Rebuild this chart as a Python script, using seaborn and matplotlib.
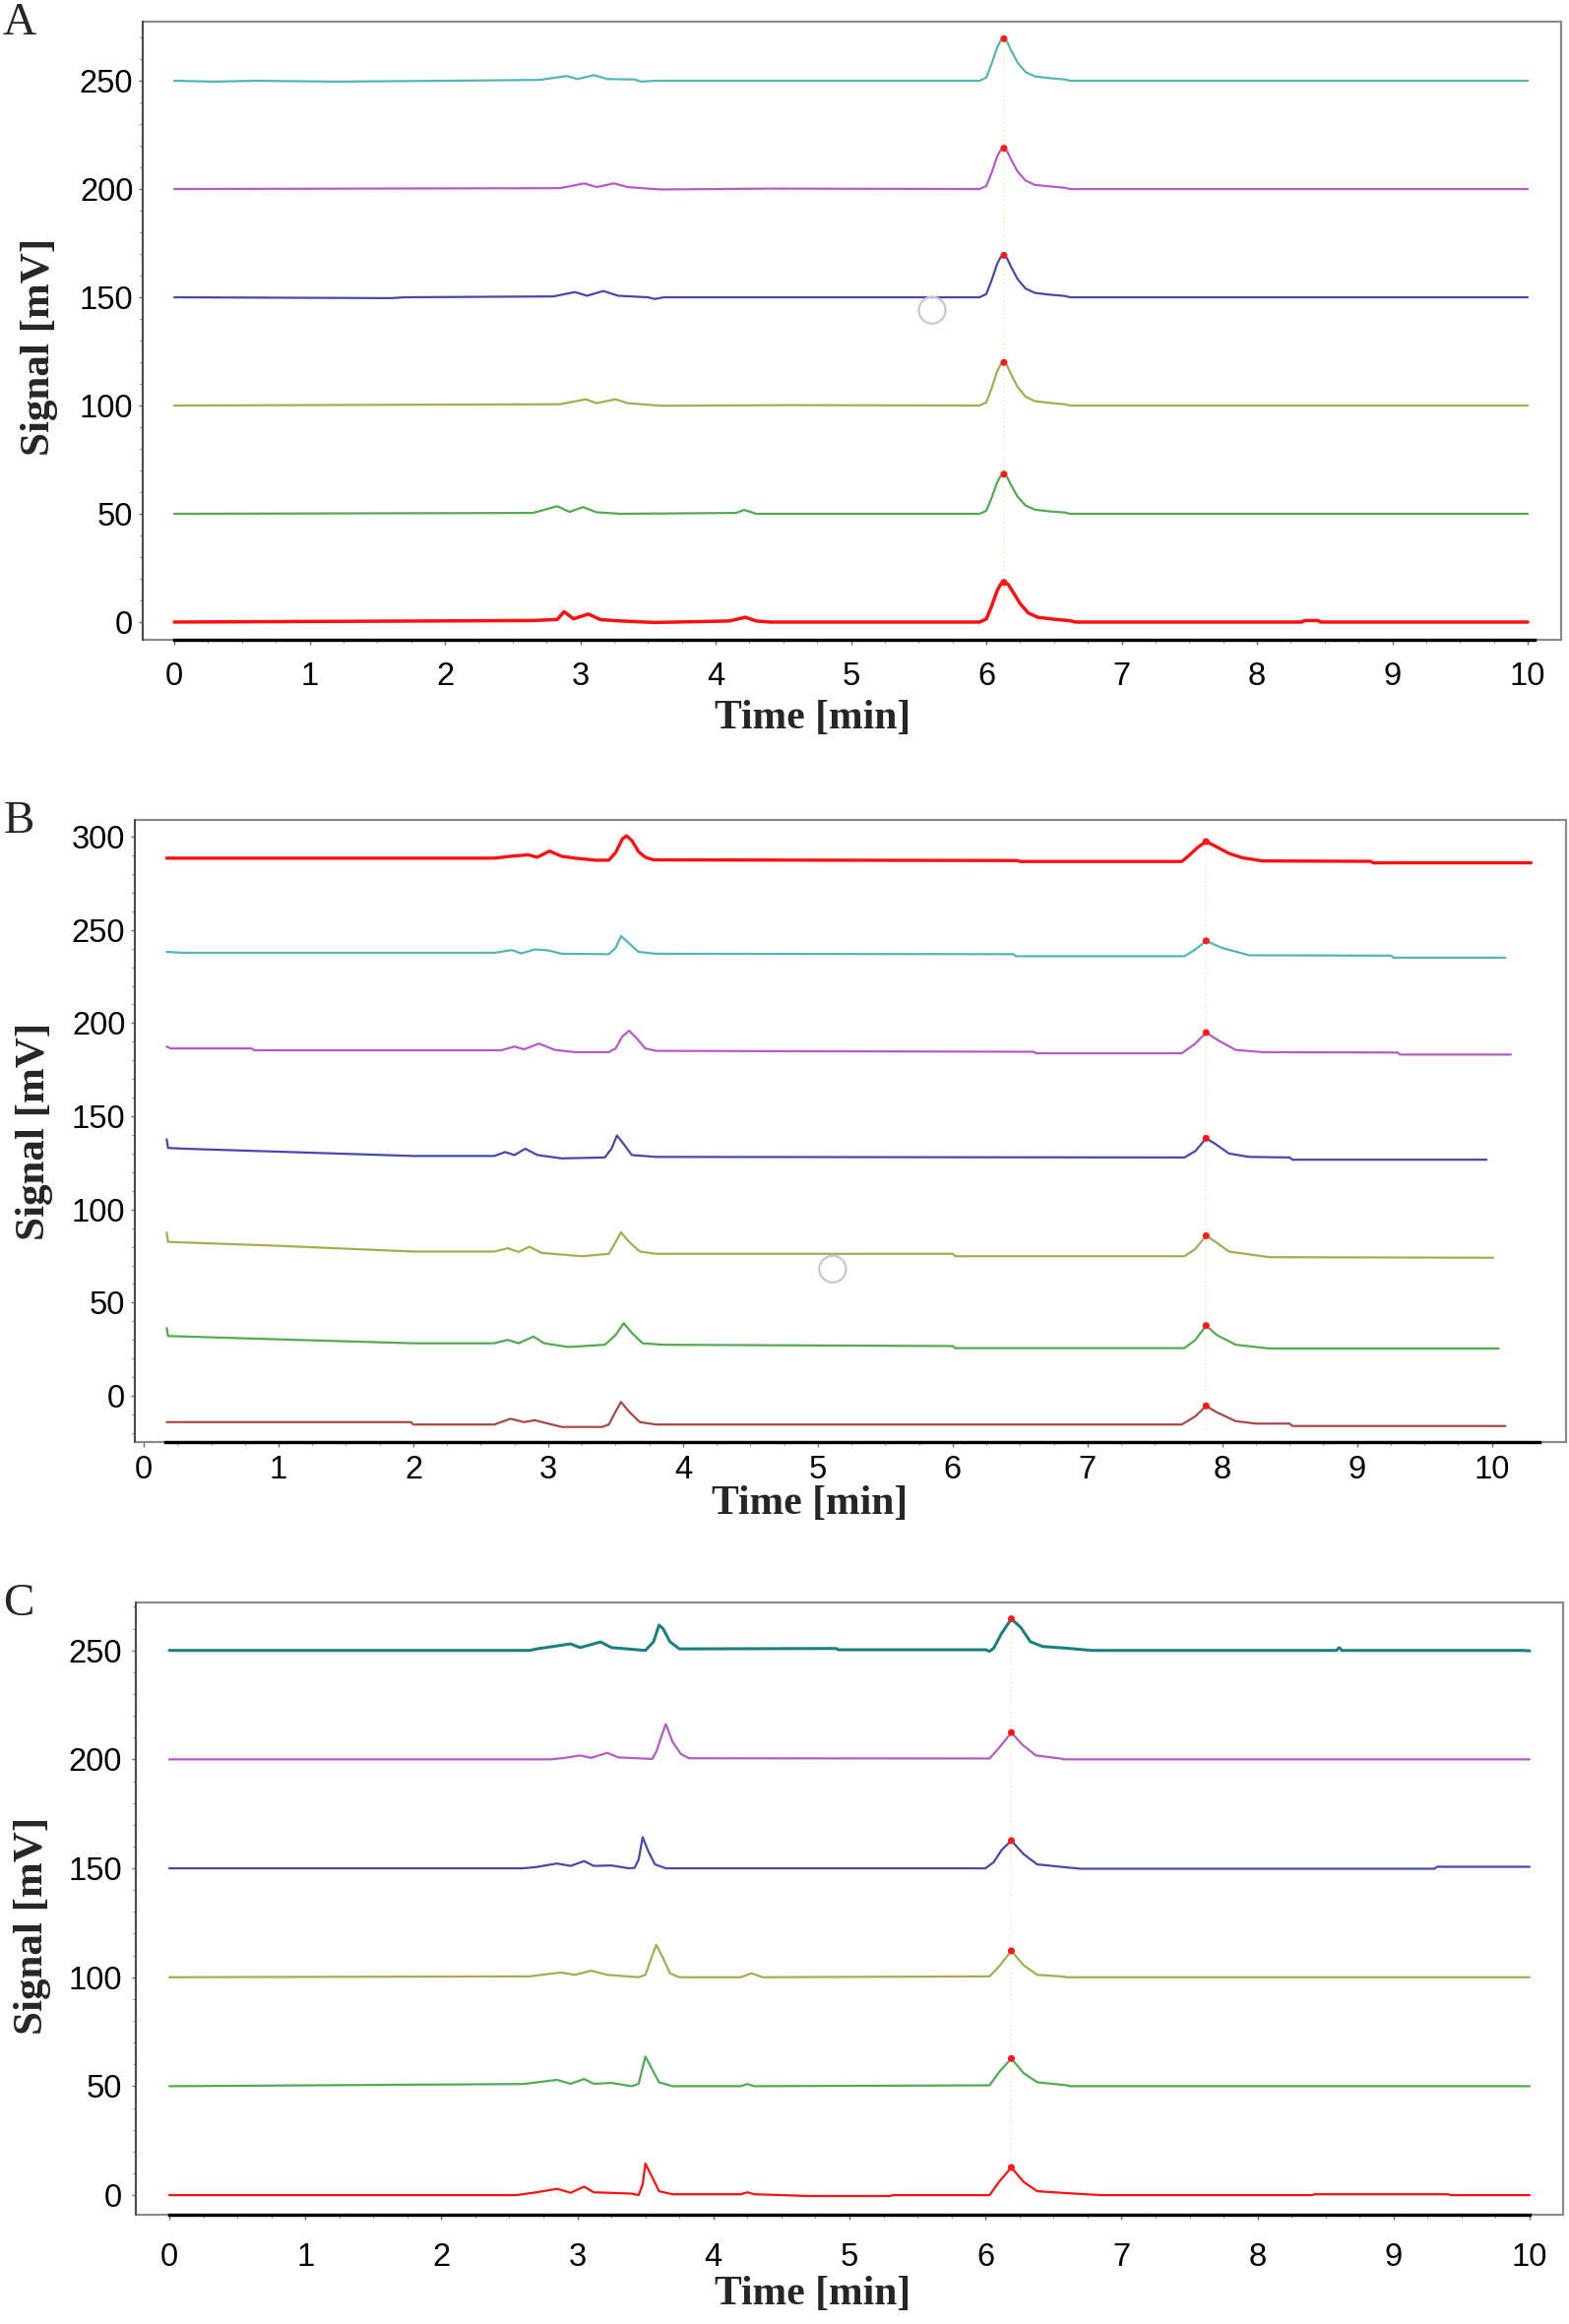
import numpy as np
import pandas as pd
import matplotlib.pyplot as plt
import seaborn as sns
from matplotlib.patches import Rectangle

sns.set_theme(style="ticks")
plt.rcParams['font.family'] = ['Liberation Sans', 'DejaVu Sans']

# ---------------------------------------------------------------
# Panel A  (time [min], signal [mV])
# ---------------------------------------------------------------
A_TEAL = [(0.0, 250), (0.3, 249.6), (0.6, 250), (1.2, 249.6), (2.0, 250), (2.7, 250.4),
          (2.9, 252.2), (2.98, 250.8), (3.1, 252.6), (3.2, 250.8), (3.4, 250.6), (3.45, 249.6),
          (3.55, 250), (5.95, 250), (6.0, 251.5), (6.04, 258), (6.08, 265.4), (6.105, 268.4),
          (6.13, 269.4), (6.155, 267.8), (6.18, 264.4), (6.23, 258.5), (6.29, 254), (6.36, 252),
          (6.47, 251.2), (6.58, 250.6), (6.62, 250), (10.0, 250)]
A_PURPLE = [(0.0, 200), (2.85, 200.4), (3.03, 202.6), (3.12, 200.9), (3.25, 202.6), (3.35, 200.9),
            (3.5, 200.2), (3.6, 199.8), (4.4, 200.2), (5.95, 200), (6.0, 201.4), (6.04, 207.7),
            (6.08, 215), (6.105, 217.9), (6.13, 218.8), (6.155, 217.3), (6.18, 214), (6.23, 208.2),
            (6.29, 203.9), (6.36, 201.9), (6.47, 201.2), (6.58, 200.6), (6.62, 200), (10.0, 200)]
A_BLUE = [(0.0, 150), (1.6, 149.6), (1.7, 150), (2.8, 150.4), (2.96, 152.4), (3.05, 150.7),
          (3.17, 152.9), (3.28, 150.7), (3.5, 150), (3.55, 149.2), (3.62, 150), (5.95, 150),
          (6.0, 151.5), (6.04, 158), (6.08, 165.4), (6.105, 168.4), (6.13, 169.4), (6.155, 167.8),
          (6.18, 164.4), (6.23, 158.5), (6.29, 154), (6.36, 152), (6.47, 151.2), (6.58, 150.6),
          (6.62, 150), (10.0, 150)]
A_OLIVE = [(0.0, 100), (2.85, 100.6), (3.04, 102.9), (3.12, 101.1), (3.26, 102.9), (3.35, 101.1),
           (3.6, 99.9), (4.55, 100.2), (5.95, 100), (6.0, 101.5), (6.04, 108.2), (6.08, 115.8),
           (6.105, 118.9), (6.13, 119.9), (6.155, 118.3), (6.18, 114.8), (6.23, 108.7),
           (6.29, 104.1), (6.36, 102), (6.47, 101.2), (6.58, 100.6), (6.62, 100), (10.0, 100)]
A_GREEN = [(0.0, 50), (2.65, 50.4), (2.83, 53.5), (2.92, 50.9), (3.02, 53.1), (3.12, 50.7),
           (3.3, 50), (4.15, 50.4), (4.21, 51.8), (4.3, 50), (5.95, 50), (6.0, 51.4), (6.04, 57.5),
           (6.08, 64.5), (6.105, 67.4), (6.13, 68.3), (6.155, 66.8), (6.18, 63.6), (6.23, 58),
           (6.29, 53.8), (6.36, 51.9), (6.47, 51.1), (6.58, 50.6), (6.62, 50), (10.0, 50)]
A_RED = [(0.0, 0), (2.65, 0.7), (2.83, 1.2), (2.88, 4.8), (2.95, 1.5), (3.06, 3.7), (3.15, 1.1),
         (3.3, 0.5), (3.55, -0.2), (4.1, 0.5), (4.22, 2.2), (4.3, 0.5), (4.4, 0), (5.95, 0),
         (6.0, 1.4), (6.04, 7.5), (6.08, 14.5), (6.105, 17.4), (6.13, 18.3), (6.16, 17.5),
         (6.2, 13.6), (6.25, 8.5), (6.31, 4.2), (6.38, 2.2), (6.5, 1.3), (6.62, 0.6), (6.66, 0),
         (8.33, 0), (8.35, 0.7), (8.45, 0.7), (8.47, 0), (10.0, 0)]
A_APEX_T = [6.13, 6.13, 6.13, 6.13, 6.13, 6.13]
A_APEX_Y = [18.3, 68.3, 119.9, 169.4, 218.8, 269.4]
A_CURSOR = [(5.6, 144)]

# ---------------------------------------------------------------
# Panel B
# ---------------------------------------------------------------
B_RED = [(0.17, 288.5), (2.6, 288.5), (2.72, 289.5), (2.85, 290.3), (2.92, 289), (3.01, 292.3),
         (3.1, 289.5), (3.2, 288.5), (3.35, 287.4), (3.45, 287.4), (3.5, 291.5), (3.55, 298.7),
         (3.58, 300.5), (3.62, 298), (3.67, 292), (3.72, 289), (3.78, 287.6), (6.48, 287.2),
         (6.5, 286.7), (7.7, 286.7), (7.75, 289.7), (7.82, 294.4), (7.88, 297.4), (7.95, 294.9),
         (8.05, 291), (8.15, 288.7), (8.3, 287), (9.1, 286.8), (9.12, 286.0), (10.29, 286.0)]
B_TEAL = [(0.17, 238.2), (0.3, 237.7), (2.6, 237.7), (2.73, 239.2), (2.8, 237.4), (2.9, 239.5),
          (3.0, 239), (3.1, 237.2), (3.45, 237), (3.5, 240.3), (3.54, 246.7), (3.6, 242.8),
          (3.67, 238.2), (3.8, 237.2), (6.45, 237), (6.47, 235.9), (7.72, 235.9), (7.8, 239.5),
          (7.88, 244.1), (8.0, 240.3), (8.2, 236.4), (9.25, 236.2), (9.27, 235.1), (10.1, 235.1)]
B_PURPLE = [(0.17, 187.4), (0.2, 186.4), (0.8, 186.4), (0.82, 185.4), (2.65, 185.4), (2.75, 187.4),
            (2.82, 185.9), (2.93, 189), (3.05, 185.6), (3.2, 184.4), (3.45, 184.4), (3.5, 186.4),
            (3.55, 192.8), (3.6, 195.9), (3.66, 191.5), (3.72, 186.4), (3.8, 185.1), (6.6, 184.6),
            (6.62, 183.8), (7.7, 183.8), (7.8, 189), (7.88, 194.9), (7.98, 190.3), (8.1, 185.6),
            (8.3, 184.4), (9.3, 184.2), (9.32, 183.1), (10.14, 183.1)]
B_BLUE = [(0.17, 137.7), (0.18, 133), (0.3, 132.6), (1.0, 131), (2.0, 128.7), (2.6, 128.7),
          (2.68, 130.8), (2.75, 129.2), (2.83, 132.6), (2.92, 129.2), (3.1, 127.4), (3.42, 127.9),
          (3.47, 132.6), (3.51, 139.7), (3.56, 135.1), (3.62, 129.2), (3.8, 128.2), (7.72, 127.9),
          (7.8, 131.3), (7.88, 138.2), (7.95, 135.1), (8.05, 130), (8.2, 128.2), (8.5, 127.9),
          (8.52, 126.7), (9.96, 126.7)]
B_OLIVE = [(0.17, 87.7), (0.18, 82.6), (1.0, 80.5), (2.0, 77.4), (2.6, 77.4), (2.7, 79.2),
           (2.78, 77.2), (2.86, 80), (2.95, 76.7), (3.25, 74.9), (3.45, 76.2), (3.49, 81.3),
           (3.54, 87.7), (3.6, 82.6), (3.68, 77.4), (3.8, 76.2), (6.0, 76.2), (6.02, 74.9),
           (7.72, 74.9), (7.8, 78.8), (7.88, 85.9), (7.95, 82.6), (8.05, 77.4), (8.35, 74.4),
           (10.01, 74.1)]
B_GREEN = [(0.17, 36.4), (0.18, 32.1), (1.0, 30.3), (2.0, 28.2), (2.6, 28.2), (2.7, 30),
           (2.78, 28.2), (2.89, 31.8), (2.97, 28.2), (3.15, 26.2), (3.42, 27.4), (3.5, 32.6),
           (3.56, 39), (3.62, 33.8), (3.7, 28.2), (3.85, 27.4), (6.0, 26.7), (6.02, 25.6),
           (7.72, 25.6), (7.8, 30), (7.88, 37.7), (7.96, 32.6), (8.1, 27.4), (8.35, 25.4),
           (10.05, 25.4)]
B_BROWN = [(0.17, -14.1), (1.98, -14.1), (2.0, -15.4), (2.6, -15.4), (2.72, -12.3), (2.82, -14.1),
           (2.9, -13.1), (3.0, -14.9), (3.1, -16.7), (3.4, -16.7), (3.45, -15.4), (3.5, -8.5),
           (3.54, -3.3), (3.6, -8.5), (3.68, -14.1), (3.8, -15.4), (7.7, -15.4), (7.8, -11),
           (7.88, -5.4), (7.95, -8.5), (8.1, -13.6), (8.25, -14.9), (8.5, -14.9), (8.52, -16.2),
           (10.1, -16.2)]
B_APEX_T = [7.88, 7.88, 7.88, 7.88, 7.88, 7.88, 7.88]
B_APEX_Y = [-5.4, 37.7, 85.9, 138.2, 194.9, 244.1, 297.4]
B_CURSOR = [(5.11, 68)]

# ---------------------------------------------------------------
# Panel C
# ---------------------------------------------------------------
C_TEAL = [(0.0, 250), (2.65, 250), (2.7, 250.7), (2.95, 253), (3.02, 251.3), (3.17, 253.9),
          (3.25, 251.3), (3.5, 250), (3.56, 254), (3.6, 261.6), (3.63, 260), (3.68, 254),
          (3.75, 250.7), (4.9, 250.9), (4.92, 250.3), (6.0, 250.3), (6.03, 249.6), (6.06, 251),
          (6.12, 258), (6.19, 264.5), (6.26, 260.5), (6.33, 254), (6.42, 251.8), (6.6, 251),
          (6.78, 250), (8.58, 250), (8.6, 251.3), (8.62, 250), (9.95, 250), (10.0, 249.8)]
C_PURPLE = [(0.0, 200), (2.8, 200), (2.9, 200.6), (3.02, 201.8), (3.1, 200.7), (3.22, 203),
            (3.3, 200.9), (3.55, 200.2), (3.58, 203.5), (3.62, 211), (3.65, 216.2), (3.7, 208),
            (3.76, 202.5), (3.82, 200.5), (6.03, 200.4), (6.1, 205.3), (6.19, 212.3), (6.27, 206.8),
            (6.37, 201.8), (6.55, 200.4), (6.58, 200), (10.0, 200)]
C_BLUE = [(0.0, 150), (2.6, 150), (2.7, 150.6), (2.85, 152.2), (2.95, 151.1), (3.05, 153.3),
          (3.12, 151.1), (3.25, 151.3), (3.38, 150), (3.42, 150.2), (3.45, 154), (3.48, 164.3),
          (3.52, 158), (3.57, 151.8), (3.65, 150), (6.0, 150), (6.06, 152.8), (6.12, 158.5),
          (6.19, 162.7), (6.28, 156.5), (6.38, 151.8), (6.55, 150.7), (6.7, 149.8), (9.3, 149.8),
          (9.32, 150.7), (10.0, 150.7)]
C_OLIVE = [(0.0, 100), (2.65, 100.4), (2.88, 102.2), (2.98, 101.1), (3.1, 103), (3.22, 101.1),
           (3.45, 100), (3.5, 101.1), (3.55, 109.9), (3.58, 114.9), (3.63, 108.8), (3.68, 101.8),
           (3.75, 100), (4.2, 100), (4.28, 101.8), (4.36, 100), (6.03, 100.4), (6.1, 105),
           (6.19, 112.1), (6.28, 105.5), (6.38, 101.1), (6.55, 100.4), (6.6, 100), (10.0, 100)]
C_GREEN = [(0.0, 50), (2.6, 51), (2.85, 52.9), (2.95, 51.1), (3.05, 53.3), (3.12, 51.1),
           (3.25, 51.5), (3.4, 50), (3.45, 51.1), (3.5, 63.6), (3.55, 57.7), (3.6, 51.8),
           (3.7, 50), (4.2, 50), (4.25, 51), (4.3, 50), (6.03, 50.4), (6.1, 56.5), (6.19, 62.7),
           (6.28, 56), (6.38, 51.8), (6.6, 50.4), (6.62, 50), (10.0, 50)]
C_RED = [(0.0, 0), (2.55, 0), (2.7, 1.3), (2.85, 2.9), (2.95, 1.1), (3.05, 3.9), (3.12, 1.3),
         (3.4, 0.7), (3.45, 0), (3.48, 5), (3.5, 14.5), (3.54, 9.5), (3.6, 1.8), (3.7, 0.4),
         (4.2, 0.4), (4.25, 1.3), (4.3, 0.4), (4.7, -0.4), (5.3, -0.4), (5.32, 0), (6.03, 0),
         (6.1, 6.1), (6.19, 12.7), (6.28, 6.1), (6.38, 1.8), (6.6, 0.9), (6.85, 0), (8.4, 0),
         (8.42, 0.4), (9.4, 0.4), (9.42, 0), (10.0, 0)]
C_APEX_T = [6.19, 6.19, 6.19, 6.19, 6.19, 6.19]
C_APEX_Y = [12.7, 62.7, 112.1, 162.7, 212.3, 264.5]

A_YTICKS = [0, 50, 100, 150, 200, 250]
B_YTICKS = [0, 50, 100, 150, 200, 250, 300]
C_YTICKS = [0, 50, 100, 150, 200, 250]
X_TICKS = [0, 1, 2, 3, 4, 5, 6, 7, 8, 9, 10]

# colours / line widths
TEAL = "#52b6b4"
PURPLE = "#b45cc6"
BLUE = "#4848aa"
OLIVE = "#aaaa52"
GREEN = "#52aa52"
RED = "#ff1010"
BROWN = "#a84848"
DARK_TEAL = "#1c8080"

panels = [
    dict(letter="A", pos=(145, 22, 1586, 650), xlim=(-0.233, 10.247), ylim=(-8.2, 277.3),
         axis_bounds=(0, 10.05), yticks=A_YTICKS, xpad=12, ypad=4,
         traces=[(A_RED, RED, 2.5), (A_GREEN, GREEN, 1.6), (A_OLIVE, OLIVE, 1.6),
                 (A_BLUE, BLUE, 1.6), (A_PURPLE, PURPLE, 1.6), (A_TEAL, TEAL, 1.6)],
         apex=(A_APEX_T, A_APEX_Y), cursor=A_CURSOR,
         xlabel_xy=(0.4726, -0.127), ylabel_xy=(-0.0729, 0.4745), letter_xy=(20, 24)),
    dict(letter="B", pos=(137, 833, 1591, 1465), xlim=(-0.066, 10.55), ylim=(-24.8, 309.0),
         axis_bounds=(0.16, 10.35), yticks=B_YTICKS, xpad=6, ypad=4,
         traces=[(B_BROWN, BROWN, 1.6), (B_GREEN, GREEN, 1.6), (B_OLIVE, OLIVE, 1.6),
                 (B_BLUE, BLUE, 1.6), (B_PURPLE, PURPLE, 1.6), (B_TEAL, TEAL, 1.6),
                 (B_RED, RED, 2.4)],
         apex=(B_APEX_T, B_APEX_Y), cursor=B_CURSOR,
         xlabel_xy=(0.4718, -0.0997), ylabel_xy=(-0.0702, 0.5), letter_xy=(19, 835)),
    dict(letter="C", pos=(138, 1628, 1588, 2250), xlim=(-0.246, 10.246), ylim=(-9.0, 272.0),
         axis_bounds=(0, 10.0), yticks=C_YTICKS, xpad=17, ypad=7,
         traces=[(C_RED, RED, 1.6), (C_GREEN, GREEN, 1.6), (C_OLIVE, OLIVE, 1.6),
                 (C_BLUE, BLUE, 1.6), (C_PURPLE, PURPLE, 1.6), (C_TEAL, DARK_TEAL, 2.2)],
         apex=(C_APEX_T, C_APEX_Y), cursor=[],
         xlabel_xy=(0.4745, -0.130), ylabel_xy=(-0.0724, 0.4727), letter_xy=(19, 1630)),
]

W, H = 1594, 2361
fig = plt.figure(figsize=(W / 100, H / 100), dpi=100)

for p in panels:
    x0, y0, x1, y1 = p["pos"]
    ax = fig.add_axes([x0 / W, 1 - y1 / H, (x1 - x0) / W, (y1 - y0) / H])

    # faint dotted marker line through the labelled peak
    apex_t, apex_y = p["apex"]
    ax.vlines(apex_t[0], min(apex_y) - 13, max(apex_y), colors="#f1edc4",
              linestyles=":", linewidth=1.2, zorder=1)

    for pts, col, lw in p["traces"]:
        df = pd.DataFrame(pts, columns=["time", "signal"])
        sns.lineplot(data=df, x="time", y="signal", ax=ax, color=col, linewidth=lw,
                     estimator=None, sort=False, zorder=3)

    sns.scatterplot(x=apex_t, y=apex_y, ax=ax, color="#ff1a1a", s=26, marker="o",
                    edgecolor="none", zorder=5)

    for cx, cy in p["cursor"]:
        ax.scatter([cx], [cy], s=380, facecolors="none", edgecolors="#c6c6d4",
                   linewidths=1.6, zorder=6)

    ax.set_xticks(X_TICKS)
    ax.set_xticks(np.arange(0, 10.01, 0.25), minor=True)
    ax.set_yticks(p["yticks"])
    ax.set_yticks(np.arange(-20, p["ylim"][1], 10), minor=True)
    ax.set_xticklabels([str(v) for v in X_TICKS])
    ax.set_yticklabels([str(v) for v in p["yticks"]])
    # limits after the ticks, otherwise set_yticks widens the view
    ax.set_xlim(*p["xlim"])
    ax.set_ylim(*p["ylim"])

    ax.tick_params(axis="x", which="major", direction="out", length=3.5, width=1.0,
                   color="#707070", labelsize=23.5, pad=p["xpad"], labelcolor="black")
    ax.tick_params(axis="x", which="minor", direction="out", length=2.2, width=0.8,
                   color="#8a8a8a")
    ax.tick_params(axis="y", which="major", direction="out", length=3.0, width=1.0,
                   color="#707070", labelsize=23.5, pad=p["ypad"], labelcolor="black")
    ax.tick_params(axis="y", which="minor", direction="out", length=2.0, width=0.8,
                   color="#8a8a8a")

    # frame: grey box, dark left line, bold black time axis
    ax.add_patch(Rectangle((0, 0), 1, 1, transform=ax.transAxes, fill=False,
                           edgecolor="#8a8a8a", linewidth=1.6, clip_on=False, zorder=2))
    ax.spines["top"].set_visible(False)
    ax.spines["right"].set_visible(False)
    ax.spines["left"].set_color("#3a3a3a")
    ax.spines["left"].set_linewidth(1.1)
    ax.spines["bottom"].set_color("black")
    ax.spines["bottom"].set_linewidth(2.4)
    ax.spines["bottom"].set_bounds(*p["axis_bounds"])
    ax.spines["bottom"].set_zorder(4)

    ax.set_xlabel("Time [min]", fontsize=30, fontweight="bold",
                  family=["Liberation Serif", "DejaVu Serif"])
    ax.set_ylabel("Signal [mV]", fontsize=31, fontweight="bold",
                  family=["Liberation Serif", "DejaVu Serif"])
    ax.xaxis.set_label_coords(*p["xlabel_xy"])
    ax.yaxis.set_label_coords(*p["ylabel_xy"])
    ax.xaxis.label.set_va("center")
    ax.yaxis.label.set_va("center")

    lx, ly = p["letter_xy"]
    fig.text(lx / W, 1 - ly / H, p["letter"], fontsize=34, ha="center", va="center",
             family=["Liberation Serif", "DejaVu Serif"])

fig.savefig("out.png", dpi=100, facecolor="white")
